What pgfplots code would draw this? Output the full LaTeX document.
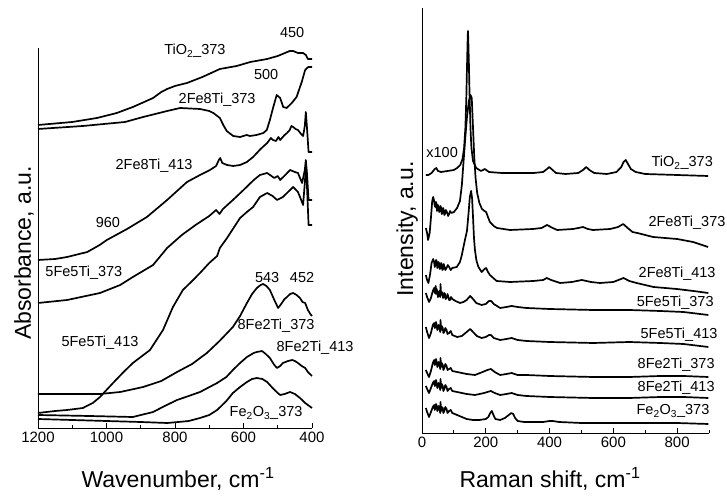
\documentclass[border=0pt]{standalone}
\usepackage{fontspec}
\setmainfont{Liberation Sans}
\usepackage{pgfplots}
\pgfplotsset{compat=1.18}
\pgfplotsset{
  base/.style={
    scale only axis, clip=false,
    axis x line*=bottom, axis y line*=left,
    axis line style={-, line width=0.8pt, black},
    tick align=inside,
    tick style={black, line width=0.8pt},
    major tick length=5pt, minor tick length=3pt,
    ytick=\empty,
    ticklabel style={font=\fontsize{15}{18}\selectfont},
    /pgf/number format/assume math mode=true,
    /pgf/number format/1000 sep={},
    every axis plot post/.append style={black, solid, line width=1.7pt, line join=round, mark=none},
  },
}
\tikzset{lab/.style={font=\fontsize{14.5}{17}\selectfont, anchor=base, inner sep=0pt}}
\begin{document}
\begin{tikzpicture}[x=1pt,y=1pt]
\path[use as bounding box] (0,0) rectangle (727,497);
% ---------------- left panel ----------------
\begin{axis}[base, at={(38pt,69pt)}, anchor=south west, width=274pt, height=380pt,
  xmin=400, xmax=1200, x dir=reverse, ymin=0, ymax=380,
  xtick={400,600,800,1000,1200}, minor xtick={500,700,900,1100},
  minor ytick={60,136,211,287,362}]
% TiO2_373
\addplot coordinates {(1200,303)(1100,306)(1028,310)(970,315)(923,321)(890,326)(864,330)(840,336)(823,339)(800,342)(765,345)(720,351)(669,359)(620,362)(580,366)(531,369)(500,372)(479,375)(465,377)(455,377)(441,375)(435,375)(426,375)(418,373)(412,369)(400,369)};
% 2Fe8Ti_373
\addplot coordinates {(1200,299)(1069,302)(946,306)(893,311)(823,317)(785,320)(727,319)(700,317)(688,315)(669,310)(659,303)(649,297)(630,292)(610,291)(591,293)(581,292)(562,293)(542,295)(532,298)(523,308)(513,321)(503,333)(493,330)(484,321)(474,320)(459,325)(445,331)(430,346)(420,358)(411,361)(400,361)};
% 2Fe8Ti_413
\addplot coordinates {(1200,168)(1150,169)(1115,171)(1056,176)(1020,183)(999,188)(940,199)(882,211)(823,228)(765,246)(727,253)(698,258)(680,262)(672,268)(668,270)(662,265)(648,263)(630,262)(610,263)(590,266)(572,271)(550,279)(531,285)(520,290)(514,288)(505,287)(498,291)(493,288)(480,293)(473,295)(465,298)(460,302)(455,301)(448,299)(441,298)(432,294)(426,292)(421,302)(418,316)(415,302)(410,276)(400,276)};
% 5Fe5Ti_373
\addplot coordinates {(1200,125)(1115,128)(1019,135)(960,143)(923,151)(864,163)(823,180)(780,193)(740,203)(700,212)(680,218)(670,214)(660,219)(631,228)(600,238)(570,248)(552,253)(531,255)(510,250)(500,252)(493,248)(478,253)(464,258)(450,256)(441,255)(429,245)(421,258)(418,268)(415,256)(410,228)(400,228)};
% 5Fe5Ti_413
\addplot coordinates {(1200,15)(1150,17)(1115,18)(1069,20)(1040,25)(1019,31)(981,45)(950,56)(923,65)(873,78)(835,98)(806,121)(777,138)(750,147)(727,155)(700,165)(677,172)(669,180)(648,190)(631,199)(610,210)(590,216)(572,221)(552,231)(531,235)(515,232)(502,228)(485,231)(470,236)(455,241)(441,236)(435,231)(426,223)(421,245)(418,261)(415,245)(410,203)(400,203)};
% 8Fe2Ti_373
\addplot coordinates {(1200,34)(1100,34)(1019,34)(960,36)(893,41)(840,47)(794,56)(750,64)(707,75)(670,87)(631,101)(610,112)(590,125)(575,134)(561,140)(550,143)(543,144)(533,142)(523,138)(510,128)(499,120)(490,124)(480,129)(473,131)(464,134)(455,135)(445,133)(435,130)(428,126)(420,125)(412,118)(405,114)(400,112)};
% 8Fe2Ti_413
\addplot coordinates {(1200,13)(1050,12)(923,11)(864,16)(830,22)(794,28)(760,32)(727,36)(677,45)(650,51)(631,58)(610,65)(590,71)(570,75)(561,76)(546,77)(535,74)(523,70)(510,63)(502,60)(493,62)(485,65)(470,67)(458,68)(450,67)(441,65)(430,62)(420,60)(412,56)(400,52)};
% Fe2O3_373
\addplot coordinates {(1200,9)(1100,8)(1000,7)(900,6)(823,5)(790,6)(760,7)(727,10)(700,13)(677,18)(650,27)(631,35)(610,41)(590,46)(575,49)(561,50)(545,49)(531,46)(515,40)(500,35)(493,33)(480,34)(464,36)(450,34)(435,30)(420,25)(400,20)};
\node[lab] at (axis cs:742,373) {TiO\textsubscript{2}\_373};
\node[lab] at (axis cs:458,390) {450};
\node[lab] at (axis cs:534,348) {500};
\node[lab] at (axis cs:677,324) {2Fe8Ti\_373};
\node[lab] at (axis cs:861,258) {2Fe8Ti\_413};
\node[lab] at (axis cs:996,200) {960};
\node[lab] at (axis cs:1066,151) {5Fe5Ti\_373};
\node[lab] at (axis cs:1019,81) {5Fe5Ti\_413};
\node[lab] at (axis cs:531,145) {543};
\node[lab] at (axis cs:429,145) {452};
\node[lab] at (axis cs:505,98) {8Fe2Ti\_373};
\node[lab] at (axis cs:391,76) {8Fe2Ti\_413};
\node[lab] at (axis cs:534,11) {Fe\textsubscript{2}O\textsubscript{3}\_373};
\end{axis}
% ---------------- right panel ----------------
\begin{axis}[base, at={(422pt,64pt)}, anchor=south west, width=287pt, height=425pt,
  xmin=0, xmax=900, ymin=0, ymax=425,
  xtick={0,200,400,600,800}, minor xtick={100,300,500,700,900},
  minor ytick={114,240,366}]
% TiO2_373
\addplot coordinates {(12,258)(20,258)(30,260)(40,264)(45,265)(50,262)(60,261)(80,262)(100,263)(110,265)(120,268)(127,274)(132,285)(136,305)(139,335)(141,365)(143,392)(144,402)(145,395)(147,370)(149,340)(152,305)(155,285)(160,272)(170,265)(185,262)(197,264)(210,261)(250,260)(300,260)(350,260)(380,261)(392,264)(399,266)(406,264)(420,260)(450,259)(490,260)(505,263)(515,266)(525,263)(540,260)(580,259)(610,261)(625,266)(632,271)(639,273)(646,269)(655,264)(670,261)(700,259)(800,258)(897,257)};
% 2Fe8Ti_373
\addplot coordinates {(12,205)(16,200)(19,193)(24,200)(28,215)(32,232)(35,236)(38,232)(40,227)(42,226)(44,231)(45,230)(47,222)(48,224)(50,228)(52,226)(54,221)(56,222)(58,227)(60,225)(62,219)(64,220)(66,225)(68,223)(70,218)(72,219)(75,223)(78,221)(82,217)(85,219)(88,222)(92,220)(100,221)(110,225)(119,232)(125,248)(129,266)(135,292)(141,316)(147,332)(152,338)(156,335)(160,305)(164,275)(168,255)(173,240)(180,230)(188,224)(196,222)(201,221)(208,215)(213,211)(225,207)(235,205)(276,203)(348,204)(375,205)(392,208)(410,205)(424,203)(474,204)(490,205)(505,206)(520,204)(536,203)(590,204)(615,206)(631,209)(645,205)(660,201)(675,200)(725,196)(800,194)(850,191)(897,186)};
% 2Fe8Ti_413
\addplot coordinates {(12,158)(16,153)(20,150)(25,158)(30,170)(35,174)(38,171)(40,166)(42,168)(44,173)(46,172)(48,165)(50,166)(52,171)(54,169)(56,164)(58,165)(60,170)(62,168)(64,163)(66,164)(68,169)(70,167)(73,163)(77,165)(81,168)(85,166)(90,163)(95,165)(109,166)(119,171)(125,178)(130,186)(136,195)(141,202)(146,220)(150,236)(154,242)(157,235)(160,216)(163,195)(166,183)(171,172)(177,166)(187,161)(196,164)(201,165)(207,161)(213,158)(234,152)(276,151)(349,152)(380,153)(391,155)(405,153)(433,150)(470,151)(501,153)(530,151)(558,150)(600,151)(632,155)(650,152)(673,150)(726,146)(799,144)(851,142)(898,140)};
% 5Fe5Ti_373
\addplot coordinates {(12,140)(16,136)(22,131)(28,135)(34,142)(38,145)(40,140)(41,143)(43,147)(44,139)(46,144)(48,141)(50,136)(52,137)(54,142)(55,142)(57,136)(58,149)(60,138)(62,141)(64,140)(66,135)(68,136)(70,140)(72,139)(74,134)(77,135)(80,139)(82,137)(85,133)(88,133)(91,136)(95,134)(105,132)(119,130)(130,131)(140,133)(151,137)(160,134)(170,130)(187,128)(200,129)(210,132)(217,132)(225,129)(245,125)(265,126)(281,127)(300,126)(328,125)(400,124)(537,123)(650,123)(747,122)(820,121)(898,118)};
% 5Fe5Ti_413
\addplot coordinates {(12,106)(16,101)(22,95)(28,100)(34,108)(38,110)(40,105)(42,106)(44,111)(46,108)(48,103)(50,104)(52,108)(55,106)(57,101)(58,113)(60,103)(62,107)(65,105)(67,100)(70,101)(73,105)(77,103)(80,99)(85,100)(90,102)(95,98)(110,96)(125,97)(140,101)(151,104)(160,101)(172,97)(187,95)(200,96)(210,98)(216,98)(225,95)(245,93)(265,94)(281,95)(300,93)(328,92)(400,91)(537,90)(650,91)(747,90)(820,89)(898,86)};
% 8Fe2Ti_373
\addplot coordinates {(12,63)(16,60)(22,56)(28,62)(34,70)(38,73)(40,68)(42,69)(44,74)(46,71)(48,66)(50,67)(52,71)(55,69)(57,64)(58,75)(60,66)(62,70)(65,68)(67,63)(70,65)(73,69)(77,67)(80,63)(85,64)(90,65)(95,62)(110,61)(125,60)(140,59)(166,58)(190,61)(205,63)(216,64)(228,61)(245,58)(265,59)(281,60)(300,58)(328,58)(400,57)(537,56)(650,56)(747,57)(820,57)(898,56)};
% 8Fe2Ti_413
\addplot coordinates {(12,47)(16,44)(22,40)(28,45)(34,50)(38,52)(40,47)(42,48)(44,53)(46,50)(48,45)(50,46)(52,50)(55,48)(57,43)(58,54)(60,45)(62,49)(65,47)(67,42)(70,44)(73,48)(77,46)(80,42)(85,44)(90,45)(95,42)(110,41)(125,40)(140,39)(166,38)(195,40)(205,41)(216,42)(228,40)(245,38)(265,39)(281,40)(300,38)(328,37)(400,36)(537,35)(650,35)(747,36)(820,36)(898,35)};
% Fe2O3_373
\addplot coordinates {(12,25)(16,21)(22,16)(28,21)(34,26)(38,28)(40,23)(42,25)(44,29)(46,27)(48,22)(50,23)(52,27)(55,25)(57,20)(58,31)(60,22)(62,26)(65,25)(67,20)(70,22)(73,26)(77,24)(80,20)(85,22)(90,23)(95,20)(110,18)(125,16)(140,14)(160,13)(180,13)(200,14)(208,16)(214,20)(219,22)(224,18)(230,14)(245,13)(260,15)(272,18)(280,20)(286,19)(292,15)(300,12)(320,11)(350,11)(380,11)(400,12)(410,12)(430,11)(500,10)(600,10)(700,10)(800,10)(898,9)};
\node[lab] at (axis cs:63,275) {x100};
\node[lab] at (axis cs:816,266) {TiO\textsubscript{2}\_373};
\node[lab] at (axis cs:831,206) {2Fe8Ti\_373};
\node[lab] at (axis cs:800,155) {2Fe8Ti\_413};
\node[lab] at (axis cs:794,126) {5Fe5Ti\_373};
\node[lab] at (axis cs:806,94) {5Fe5Ti\_413};
\node[lab] at (axis cs:797,64) {8Fe2Ti\_373};
\node[lab] at (axis cs:797,41) {8Fe2Ti\_413};
\node[lab] at (axis cs:787,18) {Fe\textsubscript{2}O\textsubscript{3}\_373};
\end{axis}
% axis titles
\node[font=\fontsize{23}{27}\selectfont, rotate=90, anchor=base, inner sep=0pt] at (31,244) {Absorbance, a.u.};
\node[font=\fontsize{23}{27}\selectfont, anchor=base, inner sep=0pt] at (178,9) {Wavenumber, cm\textsuperscript{-1}};
\node[font=\fontsize{23}{27}\selectfont, rotate=90, anchor=base, inner sep=0pt] at (413,268) {Intensity, a.u.};
\node[font=\fontsize{23}{27}\selectfont, anchor=base, inner sep=0pt] at (550,9) {Raman shift, cm\textsuperscript{-1}};
\end{tikzpicture}
\end{document}
